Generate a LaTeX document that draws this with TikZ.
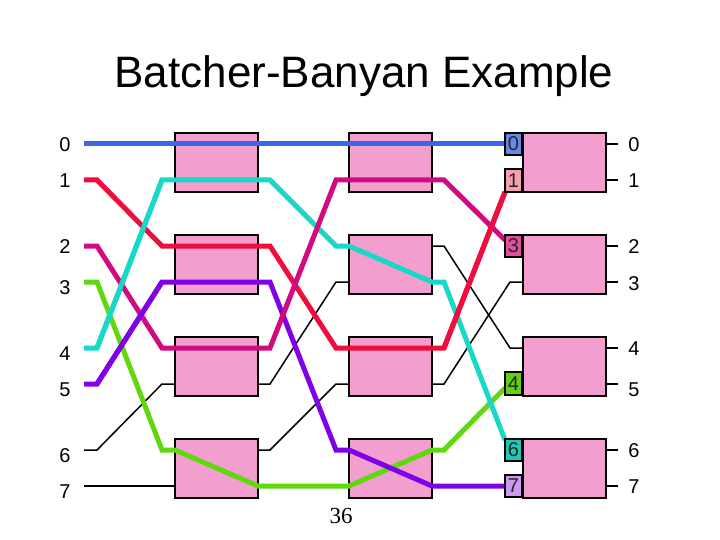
\documentclass[tikz,border=0pt]{standalone}
\usepackage{fontspec}
\setmainfont{Liberation Sans}
\newfontfamily\numfont{Liberation Serif}
\definecolor{boxpink}{HTML}{F29FD0}
\definecolor{cblue}{HTML}{4064E8}
\definecolor{cred}{HTML}{F00C3C}
\definecolor{cmag}{HTML}{D00A80}
\definecolor{cgreen}{HTML}{60D810}
\definecolor{ccyan}{HTML}{18D8C8}
\definecolor{cviol}{HTML}{8000E8}
\definecolor{tagA}{HTML}{6688E8}
\definecolor{tagB}{HTML}{F4A0B0}
\definecolor{tagC}{HTML}{E050A0}
\definecolor{tagD}{HTML}{60D010}
\definecolor{tagE}{HTML}{20C8B8}
\definecolor{tagF}{HTML}{CC99EE}
\tikzset{
  x=1pt,y=-1pt,
  swbox/.style={draw=black,line width=2pt,fill=boxpink,minimum width=83pt,minimum height=59pt,inner sep=0pt,outer sep=0pt},
  tagbox/.style={draw=black,line width=2pt,minimum width=17pt,minimum height=22.5pt,inner sep=0pt,outer sep=0pt,font=\fontsize{20}{20}\selectfont,text=black!85},
  lab/.style={font=\fontsize{20}{20}\selectfont,inner sep=0pt},
  thin wire/.style={draw=black,line width=1.5pt,line join=miter},
  fat wire/.style={line width=5pt,line join=miter}
}
\begin{document}
\begin{tikzpicture}
\useasboundingbox (0,0) rectangle (720,540);
\fill[white] (0,0) rectangle (720,540);
\node[font=\fontsize{44}{48}\selectfont,inner sep=0pt] (title) at (364,76) {Batcher-Banyan Example};
\node[font=\numfont\fontsize{23}{24}\selectfont,inner sep=0pt] (page) at (341,516) {36};
% input labels and ports
\foreach \n/\y/\ly in {0/144/145,1/180/181,2/246/247,3/282/288,4/348/354,5/384/390,6/450/456,7/486/492}{
  \node[lab] (in\n) at (65,\ly) {\n};
  \coordinate (a\n) at (84,\y);
}
\foreach \n/\y/\ly in {0/144/145,1/180/181,2/246/247,3/282/284,4/348/349,5/384/390,6/450/451,7/486/487}{
  \node[lab] (out\n) at (634,\ly) {\n};
  \coordinate (z\n) at (618,\y);
}
% stage 1
\node[swbox] (s11) at (216.5,162.5) {};
\node[swbox] (s12) at (216.5,264.5) {};
\node[swbox] (s13) at (216.5,366.5) {};
\node[swbox] (s14) at (216.5,468.5) {};
% stage 2
\node[swbox] (s21) at (390.5,162.5) {};
\node[swbox] (s22) at (390.5,264.5) {};
\node[swbox] (s23) at (390.5,366.5) {};
\node[swbox] (s24) at (390.5,468.5) {};
% stage 3
\node[swbox] (s31) at (564.5,162.5) {};
\node[swbox] (s32) at (564.5,264.5) {};
\node[swbox] (s33) at (564.5,366.5) {};
\node[swbox] (s34) at (564.5,468.5) {};
% thin wires
\draw[thin wire] (a6) -- (97,450) -- (162,384) -- (s13.west |- 0,384);
\draw[thin wire] (a7) -- (s14.west |- a7);
\draw[thin wire] (s13.east |- 0,384) -- (270,384) -- (336,282) -- (s22.west |- 0,282);
\draw[thin wire] (s14.east |- 0,450) -- (270,450) -- (336,384) -- (s23.west |- 0,384);
\draw[thin wire] (s22.east |- 0,246) -- (444,246) -- (510,348) -- (s33.west |- 0,348);
\draw[thin wire] (s23.east |- 0,384) -- (444,384) -- (510,282) -- (s32.west |- 0,282);
\foreach \n/\b in {0/s31,1/s31,2/s32,3/s32,4/s33,5/s33,6/s34,7/s34}{
  \draw[thin wire] (\b.east |- z\n) -- (z\n);
}
% tags
\coordinate (t0) at (513.5,144);
\coordinate (t1) at (513.5,180.5);
\coordinate (t3) at (513.5,246);
\coordinate (t4) at (513.5,383.5);
\coordinate (t6) at (513.5,450);
\coordinate (t7) at (513.5,486);
% fat wires
\draw[fat wire,cblue] (a0) -- (t0);
\draw[fat wire,cgreen] (a3) -- (97,282) -- (162,450) -- (175,450) -- (258,486) -- (349,486) -- (432,450) -- (444,450) -- (505,388);
\draw[fat wire,ccyan] (a4) -- (97,348) -- (162,180) -- (270,180) -- (336,246) -- (349,246) -- (432,282) -- (444,282) -- (505,440);
\draw[fat wire,cred] (a1) -- (97,180) -- (162,246) -- (270,246) -- (336,348) -- (444,348) -- (505,192);
\draw[fat wire,cviol] (a5) -- (97,384) -- (162,282) -- (270,282) -- (336,450) -- (349,450) -- (432,486) -- (t7);
\draw[fat wire,cmag] (a2) -- (97,246) -- (162,348) -- (270,348) -- (336,180) -- (444,180) -- (505,240);
% diagonals that lie on top at their crossings
\draw[fat wire,cviol] (97,384) -- (162,282);
\draw[fat wire,ccyan] (97,348) -- (162,180);
\draw[fat wire,cred] (444,348) -- (505,192);
% tag boxes
\node[tagbox,fill=tagA] (tag0) at (t0) {0};
\node[tagbox,fill=tagB] (tag1) at (t1) {1};
\node[tagbox,fill=tagC] (tag3) at (t3) {3};
\node[tagbox,fill=tagD] (tag4) at (t4) {4};
\node[tagbox,fill=tagE] (tag6) at (t6) {6};
\node[tagbox,fill=tagF] (tag7) at (t7) {7};
\end{tikzpicture}
\end{document}
